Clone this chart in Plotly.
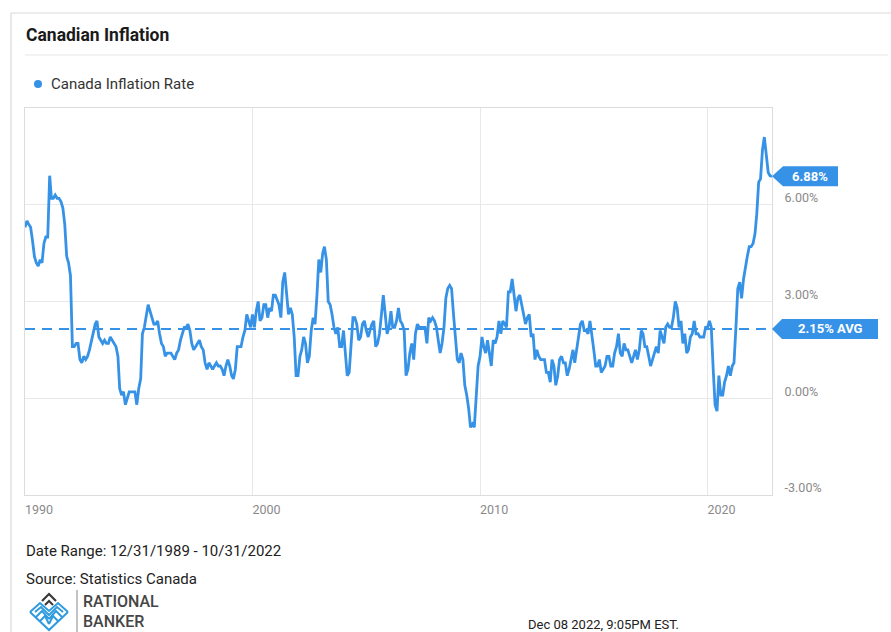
import pandas as pd
import plotly.graph_objects as go

# ---------------- data (monthly y/y CPI, Dec 1989 .. Oct 2022) ----------------
start_date = "1989-12-31"
v1989 = [5.3]
v1990 = [5.5, 5.4, 5.3, 4.9, 4.4, 4.2, 4.1, 4.3, 4.2, 4.8, 5.0, 5.0]
v1991 = [6.9, 6.2, 6.2, 6.3, 6.2, 6.2, 6.1, 5.9, 5.4, 4.4, 4.2, 3.8]
v1992 = [1.6, 1.6, 1.7, 1.7, 1.2, 1.1, 1.3, 1.2, 1.3, 1.5, 1.8, 2.1]
v1993 = [2.3, 2.4, 1.9, 1.8, 1.7, 1.8, 1.7, 1.7, 1.9, 1.8, 1.7, 1.6]
v1994 = [1.3, 0.3, 0.1, 0.2, -0.2, 0.0, 0.2, 0.2, 0.2, 0.2, -0.2, 0.3]
v1995 = [0.6, 2.0, 2.2, 2.5, 2.9, 2.7, 2.5, 2.3, 2.3, 2.4, 2.0, 1.7]
v1996 = [1.6, 1.3, 1.4, 1.4, 1.4, 1.3, 1.2, 1.4, 1.5, 1.8, 2.0, 2.2]
v1997 = [2.2, 2.3, 2.1, 1.7, 1.5, 1.6, 1.7, 1.8, 1.6, 1.5, 1.1, 0.9]
v1998 = [1.1, 1.0, 0.9, 1.0, 1.1, 1.0, 1.0, 0.9, 0.7, 1.0, 1.2, 1.0]
v1999 = [0.7, 0.6, 0.9, 1.6, 1.6, 1.6, 1.9, 2.1, 2.6, 2.4, 2.2, 2.6]
v2000 = [2.2, 2.7, 3.0, 2.4, 2.5, 2.9, 2.9, 2.5, 2.8, 2.7, 3.2, 3.2]
v2001 = [3.0, 2.9, 2.5, 3.6, 3.9, 3.3, 2.6, 2.8, 2.6, 1.9, 0.7, 0.7]
v2002 = [1.3, 1.5, 1.9, 1.7, 1.1, 1.3, 2.1, 2.5, 2.3, 3.2, 4.3, 3.9]
v2003 = [4.5, 4.7, 4.3, 3.0, 2.9, 2.6, 2.2, 2.0, 2.2, 1.6, 1.6, 2.1]
v2004 = [1.2, 0.7, 0.8, 1.7, 2.5, 2.5, 2.3, 1.8, 1.9, 2.3, 2.4, 2.1]
v2005 = [1.9, 2.1, 2.3, 2.4, 1.6, 1.7, 2.0, 2.6, 3.2, 2.6, 2.0, 2.2]
v2006 = [2.7, 2.2, 2.2, 2.4, 2.8, 2.4, 2.3, 2.1, 0.7, 0.9, 1.4, 1.7]
v2007 = [1.2, 2.0, 2.3, 2.2, 2.2, 2.2, 2.2, 1.7, 2.5, 2.4, 2.5, 2.4]
v2008 = [2.2, 1.8, 1.4, 1.7, 2.2, 3.1, 3.4, 3.5, 3.4, 2.6, 2.0, 1.2]
v2009 = [1.1, 1.4, 1.2, 0.4, 0.1, -0.3, -0.9, -0.8, -0.9, 0.1, 1.0, 1.3]
v2010 = [1.9, 1.6, 1.4, 1.8, 1.4, 1.0, 1.8, 1.7, 1.9, 2.4, 2.0, 2.4]
v2011 = [2.3, 2.2, 3.3, 3.3, 3.7, 3.1, 2.7, 3.1, 3.2, 2.9, 2.6, 2.3]
v2012 = [2.5, 2.6, 1.9, 2.0, 1.2, 1.5, 1.3, 1.2, 1.2, 1.2, 0.8, 0.8]
v2013 = [0.5, 1.2, 1.0, 0.4, 0.7, 1.2, 1.3, 1.1, 1.1, 0.7, 0.9, 1.2]
v2014 = [1.5, 1.1, 1.5, 2.0, 2.3, 2.4, 2.1, 2.1, 2.0, 2.4, 2.0, 1.5]
v2015 = [1.0, 1.0, 1.2, 0.8, 0.9, 1.0, 1.3, 1.3, 1.0, 1.0, 1.4, 1.6]
v2016 = [2.0, 1.4, 1.3, 1.7, 1.5, 1.5, 1.3, 1.1, 1.3, 1.5, 1.2, 1.5]
v2017 = [2.1, 2.0, 1.6, 1.6, 1.3, 1.0, 1.2, 1.4, 1.6, 1.4, 2.1, 1.9]
v2018 = [1.7, 2.2, 2.3, 2.2, 2.2, 2.5, 3.0, 2.8, 2.2, 2.4, 1.7, 2.0]
v2019 = [1.4, 1.5, 1.9, 2.0, 2.4, 2.0, 2.0, 1.9, 1.9, 1.9, 2.2, 2.2]
v2020 = [2.4, 2.2, 0.9, -0.2, -0.4, 0.7, 0.1, 0.1, 0.5, 0.7, 1.0, 0.7]
v2021 = [1.0, 1.1, 2.2, 3.4, 3.6, 3.1, 3.7, 4.1, 4.4, 4.7, 4.7, 4.8]
v2022 = [5.1, 5.7, 6.7, 6.8, 7.7, 8.1, 7.6, 7.0, 6.9, 6.88]

inflation = (v1989 + v1990 + v1991 + v1992 + v1993 + v1994 + v1995 + v1996 + v1997
             + v1998 + v1999 + v2000 + v2001 + v2002 + v2003 + v2004 + v2005 + v2006
             + v2007 + v2008 + v2009 + v2010 + v2011 + v2012 + v2013 + v2014 + v2015
             + v2016 + v2017 + v2018 + v2019 + v2020 + v2021 + v2022)
dates = pd.date_range(start=start_date, periods=len(inflation), freq="ME")

average = 2.15
x_tick_vals = ["1990-01-01", "2000-01-01", "2010-01-01", "2020-01-01"]
x_tick_text = ["1990", "2000", "2010", "2020"]
y_tick_vals = [-3, 0, 3, 6]
y_tick_text = ["-3.00%", "0.00%", "3.00%", "6.00%"]
y_range = [-3, 9]

series_name = "Canada Inflation Rate"
title_text = "Canadian Inflation"
date_range_text = "Date Range: 12/31/1989 - 10/31/2022"
source_text = "Source: Statistics Canada"
stamp_text = "Dec 08 2022, 9:05PM EST."

# ---------------- styling ----------------
BLUE = "#3592e6"
W, H = 891, 632
L, R, T, B = 25, 772, 108, 495  # plot area in pixels
FONT = "Roboto, 'Liberation Sans', sans-serif"


def px(x):
    return (x - L) / (R - L)


def py(y):
    return (B - y) / (B - T)


fig = go.Figure()
fig.add_trace(go.Scatter(
    x=dates, y=inflation, mode="lines", name=series_name,
    line=dict(color=BLUE, width=2.8), hoverinfo="skip", showlegend=False,
))
fig.add_trace(go.Scatter(
    x=[dates[0], dates[-1]], y=[average, average], mode="lines",
    line=dict(color=BLUE, width=2, dash="10px,7px"), hoverinfo="skip", showlegend=False,
))

shapes = []
annotations = []

# card frame and separator
shapes.append(dict(type="line", xref="paper", yref="paper", x0=px(11), x1=px(891), y0=py(13), y1=py(13),
                   line=dict(color="#dadada", width=1.2)))
shapes.append(dict(type="line", xref="paper", yref="paper", x0=px(11), x1=px(11), y0=py(13), y1=py(632),
                   line=dict(color="#dadada", width=1.2)))
shapes.append(dict(type="line", xref="paper", yref="paper", x0=px(25), x1=px(888), y0=py(55), y1=py(55),
                   line=dict(color="#e6e6e6", width=1.2)))

# legend dot
shapes.append(dict(type="circle", xref="paper", yref="paper", x0=px(34), x1=px(42), y0=py(80), y1=py(88),
                   fillcolor=BLUE, line=dict(width=0)))

# value flags (pointer boxes) anchored at the plot's right edge
last_val = inflation[-1]
shapes.append(dict(type="path", xref="paper", yref="y", xsizemode="pixel", ysizemode="pixel",
                   xanchor=1, yanchor=last_val, path="M 0,0 L 11,-10 L 66,-10 L 66,10 L 11,10 Z",
                   fillcolor=BLUE, line=dict(width=0), layer="above"))
shapes.append(dict(type="path", xref="paper", yref="y", xsizemode="pixel", ysizemode="pixel",
                   xanchor=1, yanchor=average, path="M 0,0 L 10,-10 L 106,-10 L 106,10 L 10,10 Z",
                   fillcolor=BLUE, line=dict(width=0), layer="above"))
annotations.append(dict(xref="paper", yref="y", x=1, y=last_val, xshift=38, xanchor="center", yanchor="middle",
                        text=f"<b>{last_val:.2f}%</b>", showarrow=False,
                        font=dict(family=FONT, size=13, color="white")))
annotations.append(dict(xref="paper", yref="y", x=1, y=average, xshift=58, xanchor="center", yanchor="middle",
                        text=f"<b>{average:.2f}% AVG</b>", showarrow=False,
                        font=dict(family=FONT, size=13, color="white")))

# texts
annotations.append(dict(xref="paper", yref="paper", x=px(24), y=py(35), xanchor="left", yanchor="middle",
                        text=f"<b>{title_text}</b>", showarrow=False,
                        font=dict(family=FONT, size=17.5, color="#1a1a1a")))
annotations.append(dict(xref="paper", yref="paper", x=px(49), y=py(84), xanchor="left", yanchor="middle",
                        text=series_name, showarrow=False,
                        font=dict(family=FONT, size=15, color="#333333")))
annotations.append(dict(xref="paper", yref="paper", x=px(24), y=py(551), xanchor="left", yanchor="middle",
                        text=date_range_text, showarrow=False,
                        font=dict(family=FONT, size=15, color="#222222")))
annotations.append(dict(xref="paper", yref="paper", x=px(24), y=py(579), xanchor="left", yanchor="middle",
                        text=source_text, showarrow=False,
                        font=dict(family=FONT, size=15, color="#222222")))
annotations.append(dict(xref="paper", yref="paper", x=px(526), y=py(624), xanchor="left", yanchor="middle",
                        text=stamp_text, showarrow=False,
                        font=dict(family=FONT, size=13, color="#222222")))

# logo
annotations.append(dict(xref="paper", yref="paper", x=px(81), y=py(601), xanchor="left", yanchor="middle",
                        text="RATIONAL", showarrow=False,
                        font=dict(family=FONT, size=16, color="#454545", weight=500)))
annotations.append(dict(xref="paper", yref="paper", x=px(81), y=py(621), xanchor="left", yanchor="middle",
                        text="BANKER", showarrow=False,
                        font=dict(family=FONT, size=16, color="#454545", weight=500)))
shapes.append(dict(type="line", xref="paper", yref="paper", x0=px(77), x1=px(77), y0=py(590), y1=py(632),
                   line=dict(color="#9a9a9a", width=1.2)))


def ppath(points):
    return "M " + " L ".join(f"{px(a)},{py(b)}" for a, b in points)


# dark chevrons
shapes.append(dict(type="path", xref="paper", yref="paper", path=ppath([(42, 601), (49, 594), (56, 601)]),
                   line=dict(color="#3a3a3a", width=2.2)))
shapes.append(dict(type="path", xref="paper", yref="paper", path=ppath([(45, 605), (49, 601), (53, 605)]),
                   line=dict(color="#3a3a3a", width=2)))
# blue lattice
blue_paths = [
    [(30, 612), (40, 603), (49, 611), (58, 603), (68, 612)],
    [(30, 612), (49, 630), (68, 612)],
    [(35, 612), (41, 607), (49, 615), (57, 607), (63, 612)],
    [(36, 617), (42, 611), (49, 619)],
    [(62, 617), (56, 611), (49, 619)],
    [(40, 621), (45, 616), (49, 624)],
    [(58, 621), (53, 616), (49, 624)],
]
for bp in blue_paths:
    shapes.append(dict(type="path", xref="paper", yref="paper", path=ppath(bp),
                       line=dict(color="#2f9bdf", width=2)))

fig.update_layout(
    width=W, height=H,
    margin=dict(l=L, r=W - R, t=T, b=H - B, pad=0),
    paper_bgcolor="white", plot_bgcolor="white",
    showlegend=False,
    shapes=shapes, annotations=annotations,
    xaxis=dict(
        type="date", range=[dates[0], dates[-1]],
        tickvals=x_tick_vals, ticktext=x_tick_text,
        showgrid=True, gridcolor="#e8e8e8", gridwidth=1,
        showline=True, mirror=True, linecolor="#dcdcdc", linewidth=1.2,
        ticks="", ticklabelshift=14, ticklabelstandoff=3,
        tickfont=dict(family=FONT, size=12.5, color="#8a8a8a"),
        zeroline=False, fixedrange=True,
    ),
    yaxis=dict(
        side="right", range=y_range,
        tickvals=y_tick_vals, ticktext=y_tick_text,
        showgrid=True, gridcolor="#e8e8e8", gridwidth=1,
        showline=True, mirror=True, linecolor="#dcdcdc", linewidth=1.2,
        ticks="", ticklabelshift=-7, ticklabelstandoff=9,
        tickfont=dict(family=FONT, size=12.5, color="#8a8a8a"),
        zeroline=False, fixedrange=True,
    ),
)

fig.write_html("out.html")
